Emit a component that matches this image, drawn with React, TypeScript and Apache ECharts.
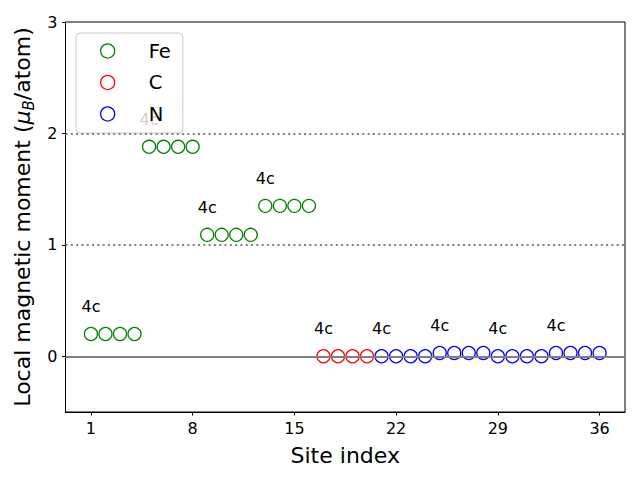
import React, { useEffect, useRef } from "react";
import * as echarts from "echarts";

// ---- data ----
const feSites = [1, 2, 3, 4, 5, 6, 7, 8, 9, 10, 11, 12, 13, 14, 15, 16];
const feMoments = [0.2, 0.2, 0.2, 0.2, 1.88, 1.88, 1.88, 1.88, 1.09, 1.09, 1.09, 1.09, 1.35, 1.35, 1.35, 1.35];
const cSites = [17, 18, 19, 20];
const cMoments = [0.0, 0.0, 0.0, 0.0];
const nSites = [21, 22, 23, 24, 25, 26, 27, 28, 29, 30, 31, 32, 33, 34, 35, 36];
const nMoments = [0.0, 0.0, 0.0, 0.0, 0.03, 0.03, 0.03, 0.03, 0.0, 0.0, 0.0, 0.0, 0.03, 0.03, 0.03, 0.03];
// Wyckoff label shown above the first site of each group of four
const groupSize = 4;
const wyckoffLabels = ["4c", "4c", "4c", "4c", "4c", "4c", "4c", "4c", "4c"];
const xTicks = [1, 8, 15, 22, 29, 36];
const yTicks = [0, 1, 2, 3];
const refLines = [0, 1, 2];

const FONT = "DejaVu Sans";

export default function App() {
  const ref = useRef<HTMLDivElement>(null);

  useEffect(() => {
    if (!ref.current) return;
    const chart = echarts.init(ref.current, null, { renderer: "svg" });

    const allSites = [...feSites, ...cSites, ...nSites];
    const makeData = (sites: number[], vals: number[]) =>
      sites.map((s, i) => {
        const globalIdx = allSites.indexOf(s);
        const isFirst = globalIdx % groupSize === 0;
        const item: any = { value: [s, vals[i]] };
        if (isFirst) {
          const txt = wyckoffLabels[Math.floor(globalIdx / groupSize)];
          item.label = {
            show: true,
            formatter: txt,
            position: "inside",
            offset: [0, -27.5],
            color: "#000",
            fontSize: 16,
            fontFamily: FONT,
          };
        }
        return item;
      });

    const species = [
      { name: "Fe", color: "#008000", sites: feSites, vals: feMoments },
      { name: "C", color: "#ff0000", sites: cSites, vals: cMoments },
      { name: "N", color: "#0000ff", sites: nSites, vals: nMoments },
    ];

    const scatterSeries = species.map((sp) => ({
      name: sp.name,
      type: "scatter",
      symbol: "circle",
      symbolSize: 13,
      z: 3,
      itemStyle: { color: "transparent", borderColor: sp.color, borderWidth: 1.3, opacity: 1 },
      label: { show: false },
      emphasis: { disabled: true },
      data: makeData(sp.sites, sp.vals),
    }));

    const option: any = {
      animation: false,
      textStyle: { fontFamily: FONT },
      grid: {
        left: 65.5,
        right: 15,
        top: 22,
        bottom: 68,
        show: true,
        borderColor: "#000",
        borderWidth: 1,
        backgroundColor: "transparent",
      },
      legend: {
        orient: "vertical",
        left: 76,
        top: 33,
        padding: [7, 12, 8, 24],
        itemGap: 9.5,
        itemWidth: 14,
        itemHeight: 14,
        backgroundColor: "rgba(255,255,255,0.8)",
        borderColor: "#cccccc",
        borderWidth: 1,
        borderRadius: 4,
        textStyle: { fontSize: 19.5, color: "#000", fontFamily: FONT, lineHeight: 22, padding: [0, 0, 0, 29] },
        data: species.map((sp) => ({
          name: sp.name,
          icon: "circle",
          itemStyle: { color: "transparent", borderColor: sp.color, borderWidth: 1.3 },
        })),
        selectedMode: false,
      },
      xAxis: {
        type: "value",
        min: -0.75,
        max: 37.75,
        name: "Site index",
        nameLocation: "middle",
        nameGap: 32,
        nameTextStyle: { fontSize: 22, color: "#000", fontFamily: FONT },
        splitLine: { show: false },
        axisLine: { show: true, onZero: false, lineStyle: { color: "#000", width: 1 } },
        axisTick: { show: true, customValues: xTicks, length: 3.5, lineStyle: { color: "#000" } },
        axisLabel: { customValues: xTicks, fontSize: 16, color: "#000", fontFamily: FONT, margin: 8 },
      },
      yAxis: {
        type: "value",
        min: -0.5,
        max: 3,
        name: "Local magnetic moment ({i|μ}{s|B}/atom)",
        nameLocation: "middle",
        nameRotate: 90,
        nameGap: 28,
        nameTextStyle: {
          fontSize: 22,
          color: "#000",
          fontFamily: FONT,
          lineHeight: 28,
          rich: {
            i: { fontSize: 22, fontStyle: "italic", color: "#000", fontFamily: FONT, lineHeight: 28 },
            s: { fontSize: 15, fontStyle: "italic", color: "#000", fontFamily: FONT, lineHeight: 15, verticalAlign: "bottom" },
          },
        },
        splitLine: { show: false },
        axisLine: { show: true, onZero: false, lineStyle: { color: "#000", width: 1 } },
        axisTick: { show: true, customValues: yTicks, length: 3.5, lineStyle: { color: "#000" } },
        axisLabel: { customValues: yTicks, fontSize: 16, color: "#000", fontFamily: FONT, margin: 8 },
      },
      series: [
        {
          name: "refs",
          type: "line",
          data: [],
          z: 1,
          silent: true,
          markLine: {
            silent: true,
            symbol: "none",
            label: { show: false },
            emphasis: { disabled: true },
            data: refLines.map((v) => ({
              yAxis: v,
              lineStyle:
                v === 0
                  ? { color: "#808080", width: 2, type: "solid" }
                  : { color: "#808080", width: 2, type: [2, 3.3] },
            })),
          },
        },
        ...scatterSeries,
      ],
    };

    chart.setOption(option);
    return () => chart.dispose();
  }, []);

  return <div ref={ref} style={{ width: 640, height: 480, position: "absolute", left: 0, top: 0 }} />;
}
